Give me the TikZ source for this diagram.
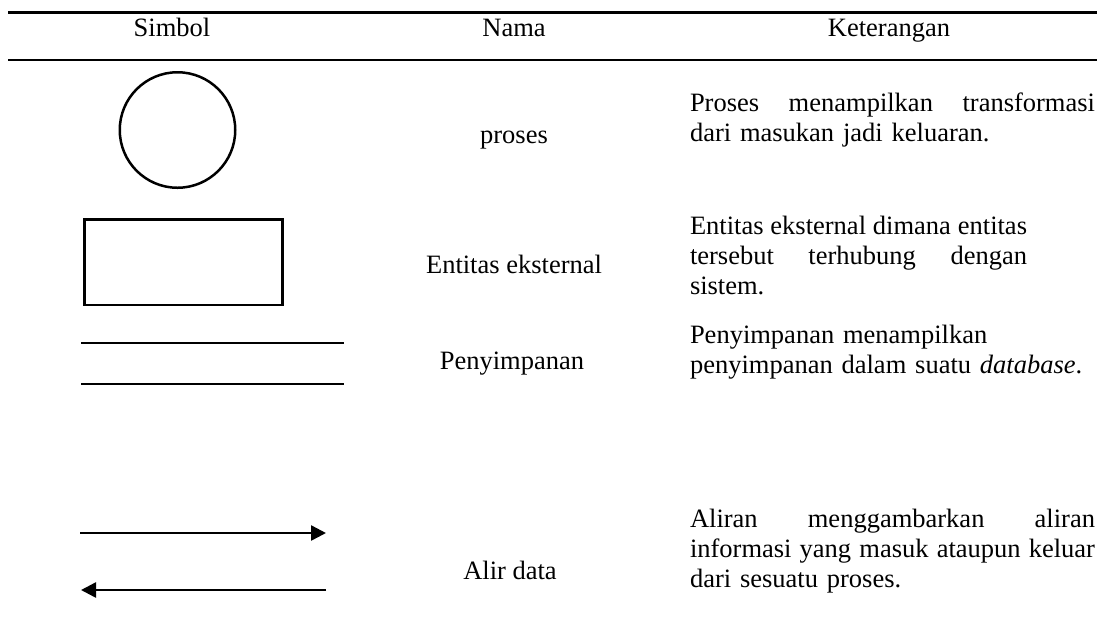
\documentclass[tikz,border=0pt]{standalone}
\usepackage{fontspec}
\setmainfont{Liberation Serif}
\usetikzlibrary{arrows.meta}
% a line whose words are spread over the full width #1
\newcommand{\fullline}[2]{\leavevmode\hbox to #1{#2}}
\begin{document}
\begin{tikzpicture}[x=1pt,y=-1pt,
  txt/.style={font=\fontsize{26.5}{30.3}\selectfont, inner sep=0pt, outer sep=0pt},
  head/.style={txt, anchor=base},
  nama/.style={txt, anchor=base},
  ket/.style={txt, anchor=base west, text width=#1, align=left},
  rule/.style={line width=2.6pt},
  sym/.style={draw, line width=2.5pt, inner sep=0pt, outer sep=0pt},
  store/.style={line width=2pt},
  flow/.style={line width=2.5pt, -{Triangle[length=15pt,width=15pt]}}]
\useasboundingbox (0,0) rectangle (1097,633);

% table rules
\draw[rule] (8,12.7) -- (1097,12.7);
\draw[rule] (8,60) -- (1097,60);

% header
\node[head] (hsimbol) at (172,36.5) {Simbol};
\node[head] (hnama) at (514,36.5) {Nama};
\node[head] (hket) at (889,36.5) {Keterangan};

% symbols
\node[sym, circle, minimum size=115.5pt] (sproses) at (177.5,130) {};
\node[sym, rectangle, minimum width=198pt, minimum height=85.5pt] (sentitas) at (183.5,262) {};
\coordinate (st1a) at (81,343);
\coordinate (st1b) at (344,343);
\coordinate (st2a) at (81,384);
\coordinate (st2b) at (344,384);
\draw[store] (st1a) -- (st1b);
\draw[store] (st2a) -- (st2b);
\coordinate (f1a) at (80,533);
\coordinate (f1b) at (326,533);
\coordinate (f2a) at (326,590);
\coordinate (f2b) at (81,590);
\draw[flow] (f1a) -- (f1b);
\draw[flow] (f2a) -- (f2b);

% names
\node[nama] (nproses) at (514,143) {proses};
\node[nama] (nentitas) at (514,273) {Entitas eksternal};
\node[nama] (nsimpan) at (512,369) {Penyimpanan};
\node[nama] (nalir) at (510,579) {Alir data};

% descriptions
\node[ket=405pt] (kproses) at (690,111)
  {\fullline{405pt}{Proses\hfill menampilkan\hfill transformasi}\\dari masukan jadi keluaran.};
\node[ket=337pt] (kentitas) at (690,234)
  {\fullline{337pt}{Entitas\hfill eksternal\hfill dimana\hfill entitas}\\\fullline{337pt}{tersebut\hfill terhubung\hfill dengan}\\sistem.};
\node[ket=405pt] (ksimpan) at (690,343)
  {Penyimpanan menampilkan\\penyimpanan dalam suatu \textit{database}.};
\node[ket=405pt] (kalir) at (690,527)
  {\fullline{405pt}{Aliran\hfill menggambarkan\hfill aliran}\\\fullline{405pt}{informasi\hfill yang\hfill masuk\hfill ataupun\hfill keluar}\\dari sesuatu proses.};
\end{tikzpicture}
\end{document}
